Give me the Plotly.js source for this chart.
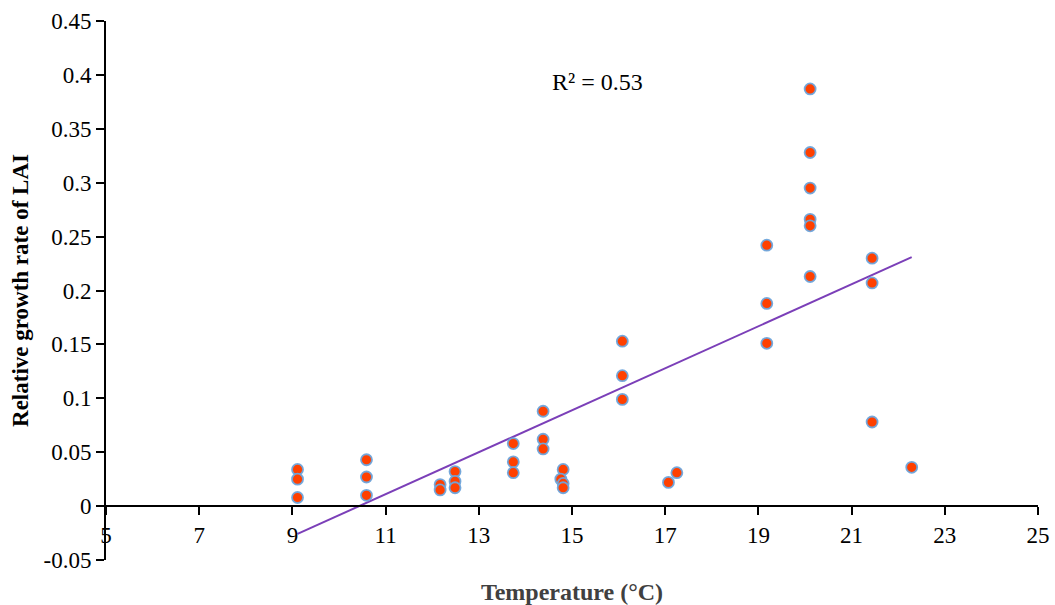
<!DOCTYPE html>
<html>
<head>
<meta charset="utf-8">
<script src="https://cdn.plot.ly/plotly-3.0.1.min.js"></script>
<style>
  html, body { margin: 0; padding: 0; background: #fff; }
  #chart { width: 1055px; height: 605px; }
</style>
</head>
<body>
<div id="chart"></div>
<script>
// Mean air temperature (°C) for each observation
const temperature = [
  9.11, 9.11, 9.11,
  10.59, 10.59, 10.59,
  12.17, 12.17,
  12.49, 12.49, 12.49,
  13.74, 13.74, 13.74,
  14.38, 14.38, 14.38,
  14.81, 14.76, 14.81, 14.81,
  16.08, 16.08, 16.08,
  17.07, 17.25,
  19.18, 19.18, 19.18,
  20.11, 20.11, 20.11, 20.11, 20.11, 20.11,
  21.44, 21.44, 21.44,
  22.29
];

// Relative growth rate of leaf area index for each observation
const growthRate = [
  0.034, 0.025, 0.008,
  0.043, 0.027, 0.010,
  0.020, 0.015,
  0.032, 0.023, 0.017,
  0.058, 0.041, 0.031,
  0.088, 0.062, 0.053,
  0.034, 0.025, 0.021, 0.017,
  0.153, 0.121, 0.099,
  0.022, 0.031,
  0.242, 0.188, 0.151,
  0.387, 0.328, 0.295, 0.266, 0.260, 0.213,
  0.230, 0.207, 0.078,
  0.036
];

const xTickVals = [5, 7, 9, 11, 13, 15, 17, 19, 21, 23, 25];
const yTickVals = [-0.05, 0, 0.05, 0.1, 0.15, 0.2, 0.25, 0.3, 0.35, 0.4, 0.45];
const yTickText = ['-0.05', '0', '0.05', '0.1', '0.15', '0.2', '0.25', '0.3', '0.35', '0.4', '0.45'];

const xRange = [5, 25];
const yRange = [-0.05, 0.45];

// Ordinary least-squares linear trend
const n = temperature.length;
const meanX = temperature.reduce((a, b) => a + b, 0) / n;
const meanY = growthRate.reduce((a, b) => a + b, 0) / n;
let sxy = 0, sxx = 0, syy = 0;
for (let i = 0; i < n; i++) {
  const dx = temperature[i] - meanX, dy = growthRate[i] - meanY;
  sxy += dx * dy; sxx += dx * dx; syy += dy * dy;
}
const slope = sxy / sxx;
const intercept = meanY - slope * meanX;
const rSquared = (sxy * sxy) / (sxx * syy);
const xMin = Math.min(...temperature), xMax = Math.max(...temperature);
const trendX = [xMin, xMax];
const trendY = trendX.map(x => intercept + slope * x);

const serif = 'Liberation Serif, Times New Roman, serif';

const traces = [
  {
    type: 'scatter', mode: 'lines',
    x: trendX, y: trendY,
    line: { color: '#7b3fb8', width: 2 },
    hoverinfo: 'skip', showlegend: false
  },
  {
    type: 'scatter', mode: 'markers',
    x: temperature, y: growthRate,
    marker: {
      size: 11, color: '#ff4000',
      line: { color: 'rgba(110,165,220,0.95)', width: 1.8 }
    },
    showlegend: false
  }
];

const layout = {
  width: 1055, height: 605,
  margin: { l: 106, r: 17, t: 21, b: 45, pad: 0 },
  paper_bgcolor: '#ffffff', plot_bgcolor: '#ffffff',
  font: { family: serif, size: 23, color: '#000000' },
  showlegend: false,
  xaxis: {
    range: xRange,
    anchor: 'free',
    // place the horizontal axis on the zero line
    position: (0 - yRange[0]) / (yRange[1] - yRange[0]),
    tickvals: xTickVals,
    ticks: 'outside', ticklen: 8, tickwidth: 2, tickcolor: '#000',
    showline: true, linecolor: '#000', linewidth: 2,
    showgrid: false, zeroline: false,
    tickfont: { family: serif, size: 23, color: '#000' },
    title: {
      text: 'Temperature (°C)',
      font: { family: serif, size: 24, color: '#404040', weight: 'bold' },
      standoff: 38
    }
  },
  yaxis: {
    range: yRange,
    tickvals: yTickVals, ticktext: yTickText,
    ticks: 'outside', ticklen: 8, tickwidth: 2, tickcolor: '#000',
    showline: true, linecolor: '#000', linewidth: 2,
    showgrid: false, zeroline: false,
    tickfont: { family: serif, size: 23, color: '#000' },
    title: {
      text: 'Relative growth rate of LAI',
      font: { family: serif, size: 23, color: '#000', weight: 'bold' },
      standoff: 8
    }
  },
  annotations: [
    {
      xref: 'x', yref: 'y', x: 15.55, y: 0.393,
      text: 'R² = ' + rSquared.toFixed(2),
      showarrow: false,
      font: { family: serif, size: 24, color: '#000' }
    }
  ]
};

Plotly.newPlot('chart', traces, layout, { displayModeBar: false, staticPlot: true });
</script>
</body>
</html>
